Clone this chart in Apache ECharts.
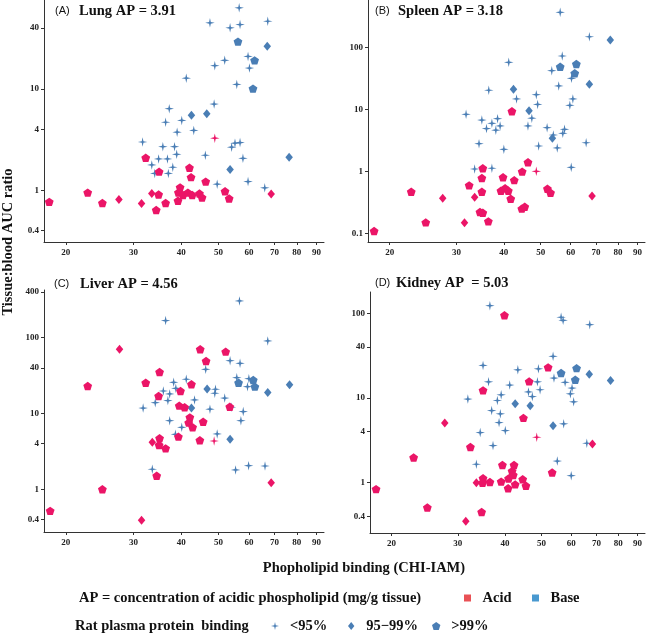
<!DOCTYPE html>
<html><head><meta charset="utf-8">
<script src="https://cdn.jsdelivr.net/npm/echarts@6/dist/echarts.min.js"></script>
<style>html,body{margin:0;padding:0;background:#fff}#c{width:650px;height:636px}</style>
</head><body><div id="c"></div>
<script>
// ---------------- DATA (x = CHI-IAM phospholipid binding, y = tissue:blood AUC ratio) ----------------
const xTicks = [20, 30, 40, 50, 60, 70, 80, 90];
const lungTicks = [0.4, 1, 4, 10, 40];
const spleenTicks = [0.1, 1, 10, 100];
const liverTicks = [0.4, 1, 4, 10, 40, 100, 400];
const kidneyTicks = [0.4, 1, 4, 10, 40, 100];
const panelLetters = ['(A)', '(B)', '(C)', '(D)'];
const panelTitles = ['Lung AP = 3.91', 'Spleen AP = 3.18', 'Liver AP = 4.56', 'Kidney AP  = 5.03'];
const ppbClasses = ['<95%', '95\u221299%', '>99%'];
const chargeClasses = ['Acid', 'Base'];

// Lung
const lungBaseStar = [[56.6,63.4],[47.5,45],[53.6,40.2],[56.9,43.3],[67.2,46.7],[51.9,19.2],[48.9,17],[59.7,21],[60.2,16.1],[41.2,12.8],[55.8,11.1],[37.2,6.4],[48.7,7.1],[40.1,4.9],[36.4,4.7],[39.0,3.75],[43.1,3.9],[31.7,3.0],[35.8,2.7],[38.4,2.7],[38.9,2.27],[36.8,2.04],[34.9,2.04],[33.5,1.78],[34.1,1.47],[38.0,1.69],[37.0,1.47],[46.2,2.22],[54.1,2.67],[55.2,2.92],[56.9,2.96],[57.9,2.07],[49.6,1.15],[59.7,1.22],[66.0,1.06]];
const lungBaseDiamond = [[42.5,5.5],[46.6,5.7],[67.0,26.4],[76.4,2.12],[53.6,1.61]];
const lungBasePentagon = [[56.2,29.4],[62.1,19.2],[61.5,10.1]];
const lungAcidStar = [[48.9,3.27]];
const lungAcidDiamond = [[27.5,0.81],[31.5,0.74],[33.5,0.93],[68.6,0.92]];
const lungAcidPentagon = [[18.1,0.77],[22.8,0.95],[24.9,0.75],[32.3,2.1],[34.9,0.91],[34.4,0.64],[35.0,1.53],[36.4,0.75],[39.2,0.79],[39.7,1.07],[39.3,0.95],[40.4,0.90],[41.6,0.95],[42.7,0.90],[42.0,1.67],[42.4,1.35],[44.6,0.93],[45.3,0.85],[46.3,1.22],[52.0,0.98],[53.3,0.83]];

// Spleen
const spleenBaseStar = [[56.3,367],[67.2,148],[41.2,57.3],[57.0,72.4],[53.5,42],[60.3,31.6],[55.8,23.8],[36.5,20.3],[43.2,14.7],[48.7,17.2],[49.1,12.0],[60.8,14.7],[59.7,11.6],[31.8,8.3],[35.0,6.7],[36.0,4.9],[38.5,7.05],[38.1,4.6],[39.1,5.4],[47.4,7.2],[46.3,5.4],[52.0,5.05],[57.8,4.76],[57.2,4.1],[54.0,3.85],[34.4,2.79],[40.0,2.26],[49.4,2.56],[55.3,2.38],[65.9,2.89],[33.5,1.09],[37.2,1.12],[60.2,1.16],[37.2,5.94]];
const spleenBaseDiamond = [[42.4,21],[46.6,9.5],[53.7,3.4],[67.2,25.3],[76.3,131]];
const spleenBasePentagon = [[56.3,48.7],[62.1,53.8],[61.5,38.1]];
const spleenAcidStar = [[48.7,1.0]];
const spleenAcidDiamond = [[27.6,0.367],[31.5,0.148],[33.5,0.381],[68.3,0.40]];
const spleenAcidPentagon = [[18.2,0.109],[22.8,0.469],[24.9,0.150],[32.4,0.594],[35.0,0.469],[35.2,1.12],[35.0,0.78],[34.6,0.221],[35.2,0.215],[36.4,0.156],[39.8,0.80],[39.3,0.487],[40.3,0.532],[41.1,0.487],[41.7,0.361],[42.0,9.3],[42.6,0.72],[44.6,0.25],[45.4,0.268],[44.7,0.99],[46.3,1.40],[52.1,0.524],[53.1,0.452]];

// Liver
const liverBaseStar = [[56.7,305],[36.4,168],[67.2,90.6],[53.6,49.8],[56.9,45.9],[46.3,38.3],[55.8,29.7],[41.2,28.3],[38.2,25.8],[35.9,19.8],[38.7,21.5],[37.3,18.1],[49.1,20.9],[48.9,18.5],[59.5,22.6],[51.9,16.0],[43.3,15.1],[36.9,14.8],[34.2,13.9],[31.8,11.8],[47.5,11.4],[54.0,12.1],[58.0,10.6],[57.2,8.05],[37.3,8.05],[40.1,6.58],[38.6,5.32],[49.6,5.37],[33.6,1.84],[55.4,1.80],[59.9,2.05],[66.1,2.03],[60.0,28.8]];
const liverBaseDiamond = [[46.7,21.1],[42.5,11.8],[67.2,18.9],[76.6,24.0],[53.6,4.57]];
const liverBasePentagon = [[56.4,25.5],[61.6,27.6],[62.2,22.6]];
const liverAcidStar = [[48.7,4.34]];
const liverAcidDiamond = [[27.6,70.3],[31.5,0.39],[33.6,4.17],[68.6,1.22]];
const liverAcidPentagon = [[18.2,0.52],[22.8,23.1],[24.9,1.0],[32.3,25.5],[34.5,1.51],[35.1,35.3],[34.9,17.0],[35.1,4.71],[35.0,3.85],[36.4,3.47],[39.3,4.95],[39.8,19.8],[39.5,12.7],[40.8,12.1],[42.1,8.9],[41.8,7.58],[42.8,6.58],[42.5,24.3],[44.8,70.3],[45.6,7.8],[44.7,4.43],[46.4,49.3],[52.2,65.5],[53.5,12.3]];

// Kidney
const kidneyBaseStar = [[36.5,123],[56.4,89.7],[57.1,82.6],[67.2,73.4],[53.7,31.0],[35.0,24.2],[43.3,21.5],[49.1,22.1],[36.2,15.5],[41.2,14.2],[48.8,15.5],[49.6,12.5],[46.2,11.8],[47.3,10.4],[54.0,17.2],[57.8,15.3],[60.3,13.1],[59.7,11.2],[60.9,9.0],[39.1,10.9],[31.9,9.7],[38.2,9.34],[36.9,7.11],[38.9,6.5],[38.6,5.13],[40.1,4.12],[34.4,3.9],[37.2,2.74],[57.3,4.95],[66.0,2.92],[33.6,1.65],[55.1,1.80],[60.0,1.21]];
const kidneyBaseDiamond = [[42.6,8.53],[46.7,8.08],[67.0,19.1],[76.3,16.1],[53.7,4.69]];
const kidneyBasePentagon = [[56.4,19.7],[62.0,22.5],[61.5,16.4]];
const kidneyAcidStar = [[48.6,3.44]];
const kidneyAcidDiamond = [[27.7,5.08],[31.5,0.35],[33.6,1.0],[68.3,2.87]];
const kidneyAcidPentagon = [[18.2,0.84],[22.9,1.98],[24.9,0.51],[32.4,2.64],[35.0,1.13],[34.9,1.0],[34.7,0.45],[35.0,12.3],[36.5,1.02],[39.1,1.03],[39.4,1.62],[39.9,94.7],[40.9,1.12],[40.8,0.86],[41.8,1.37],[42.1,1.23],[42.3,1.62],[42.6,0.955],[44.6,1.1],[45.5,0.92],[44.8,5.82],[46.4,15.7],[52.1,23.0],[53.4,1.32]];

// ---------------- LAYOUT / STYLE ----------------
const BLUE = '#4A7EB5', RED = '#EB1567';
const SERIF = '"Liberation Serif", "Times New Roman", serif';
const SANS = '"Liberation Sans", Arial, sans-serif';
const STAR = 'path://M0,-10L1.8,-1.8L10,0L1.8,1.8L0,10L-1.8,1.8L-10,0L-1.8,-1.8Z';
const PENT = 'path://M0,-10L9.51,-3.09L5.88,8.09L-5.88,8.09L-9.51,-3.09Z';
const DIAM = 'path://M0,-10L8,0L0,10L-8,0Z';
const SQUARE = 'path://M0,0L10,0L10,10L0,10Z';
const symbolOf = { star: [STAR, [9.5, 9.5]], diamond: [DIAM, [7.5, 9]], pentagon: [PENT, [8.8, 8.4]] };

const L = v => Math.log10(v);
const X_MIN = 1.244, X_MAX = 1.974;

const panels = [
  { grid: { left: 44, top: 0, width: 280, height: 242 }, yMin: -0.510, yMax: 1.879, ticks: lungTicks,
    title: [55, 79, 11],
    groups: { base: { star: lungBaseStar, diamond: lungBaseDiamond, pentagon: lungBasePentagon },
              acid: { star: lungAcidStar, diamond: lungAcidDiamond, pentagon: lungAcidPentagon } } },
  { grid: { left: 368, top: 0, width: 277, height: 242 }, yMin: -1.140, yMax: 2.763, ticks: spleenTicks,
    title: [375, 398, 11],
    groups: { base: { star: spleenBaseStar, diamond: spleenBaseDiamond, pentagon: spleenBasePentagon },
              acid: { star: spleenAcidStar, diamond: spleenAcidDiamond, pentagon: spleenAcidPentagon } } },
  { grid: { left: 44, top: 290, width: 280, height: 242 }, yMin: -0.563, yMax: 2.629, ticks: liverTicks,
    title: [54, 80, 284],
    groups: { base: { star: liverBaseStar, diamond: liverBaseDiamond, pentagon: liverBasePentagon },
              acid: { star: liverAcidStar, diamond: liverAcidDiamond, pentagon: liverAcidPentagon } } },
  { grid: { left: 370, top: 292, width: 275, height: 241 }, yMin: -0.594, yMax: 2.251, ticks: kidneyTicks,
    title: [375, 396, 283],
    groups: { base: { star: kidneyBaseStar, diamond: kidneyBaseDiamond, pentagon: kidneyBasePentagon },
              acid: { star: kidneyAcidStar, diamond: kidneyAcidDiamond, pentagon: kidneyAcidPentagon } } }
];

const fmt = v => String(parseFloat(Math.pow(10, v).toPrecision(3)));
const labelStyle = { fontFamily: SERIF, fontWeight: 'bold', fontSize: 9, color: '#222' };
const axisLine = { show: true, onZero: false, lineStyle: { color: '#333', width: 1 } };

const grids = [], xAxes = [], yAxes = [], series = [], graphics = [];
const shapeKeys = ['star', 'diamond', 'pentagon'];

panels.forEach((p, i) => {
  grids.push(Object.assign({ containLabel: false }, p.grid));
  xAxes.push({
    type: 'value', gridIndex: i, min: X_MIN, max: X_MAX, position: 'bottom',
    axisLine: axisLine,
    axisTick: { show: true, length: 3, customValues: xTicks.map(L), lineStyle: { color: '#333' } },
    axisLabel: Object.assign({ customValues: xTicks.map(L), formatter: fmt, margin: 6 }, labelStyle),
    splitLine: { show: false }
  });
  yAxes.push({
    type: 'value', gridIndex: i, min: p.yMin, max: p.yMax, position: 'left',
    axisLine: axisLine,
    axisTick: { show: true, length: 3, customValues: p.ticks.map(L), lineStyle: { color: '#333' } },
    axisLabel: Object.assign({ customValues: p.ticks.map(L), formatter: fmt, margin: 5 }, labelStyle),
    splitLine: { show: false }
  });
  ['base', 'acid'].forEach(cls => {
    shapeKeys.forEach((shape, k) => {
      const pts = p.groups[cls][shape];
      if (!pts.length) return;
      series.push({
        type: 'scatter', name: ppbClasses[k], xAxisIndex: i, yAxisIndex: i,
        symbol: symbolOf[shape][0], symbolSize: symbolOf[shape][1],
        itemStyle: { color: cls === 'base' ? BLUE : RED, opacity: 1 },
        emphasis: { disabled: true },
        data: pts.map(d => [L(d[0]), L(d[1])])
      });
    });
  });
  graphics.push({ type: 'text', x: p.title[0], y: p.title[2], style: { text: panelLetters[i], font: '11px ' + SANS, fill: '#111', align: 'left', verticalAlign: 'middle' } });
  graphics.push({ type: 'text', x: p.title[1], y: p.title[2], style: { text: panelTitles[i], font: 'bold 14.5px ' + SERIF, fill: '#111', align: 'left', verticalAlign: 'middle' } });
});

// dummy series so the Acid / Base legend entries exist
series.push({ type: 'scatter', name: 'Acid', xAxisIndex: 0, yAxisIndex: 0, data: [], itemStyle: { color: '#E3262B' } });
series.push({ type: 'scatter', name: 'Base', xAxisIndex: 0, yAxisIndex: 0, data: [], itemStyle: { color: '#1C7FC4' } });

// axis titles and legend captions
graphics.push({ type: 'text', x: 8, y: 242, rotation: Math.PI / 2, style: { text: 'Tissue:blood AUC ratio', font: 'bold 14.5px ' + SERIF, fill: '#111', align: 'center', verticalAlign: 'middle' } });
graphics.push({ type: 'text', x: 364, y: 568, style: { text: 'Phopholipid binding (CHI-IAM)', font: 'bold 14.5px ' + SERIF, fill: '#111', align: 'center', verticalAlign: 'middle' } });
graphics.push({ type: 'text', x: 79, y: 598, style: { text: 'AP = concentration of acidic phospholipid (mg/g tissue)', font: 'bold 14.5px ' + SERIF, fill: '#111', align: 'left', verticalAlign: 'middle' } });
graphics.push({ type: 'text', x: 75, y: 626, style: { text: 'Rat plasma protein  binding', font: 'bold 14.5px ' + SERIF, fill: '#111', align: 'left', verticalAlign: 'middle' } });

const legTxt = { fontFamily: SERIF, fontWeight: 'bold', fontSize: 14.5, color: '#111', lineHeight: 16 };
function leg(name, icon, color, left, top, h) {
  return { left: left, top: top, padding: 0, itemWidth: 20, itemHeight: h, selectedMode: false,
    data: [{ name: name, icon: icon, itemStyle: { color: color } }], textStyle: legTxt };
}
const legends = [
  leg(chargeClasses[0], SQUARE, '#E3262B', 464, 590, 7),
  leg(chargeClasses[1], SQUARE, '#1C7FC4', 532, 590, 7),
  leg(ppbClasses[0], STAR, BLUE, 271, 618, 8),
  leg(ppbClasses[1], DIAM, BLUE, 348, 618, 8),
  leg(ppbClasses[2], PENT, BLUE, 432, 618, 8)
];

const chart = echarts.init(document.getElementById('c'), null, { renderer: 'canvas' });
chart.setOption({
  backgroundColor: '#fff',
  animation: false,
  grid: grids, xAxis: xAxes, yAxis: yAxes, series: series,
  legend: legends, graphic: graphics
});
</script></body></html>
